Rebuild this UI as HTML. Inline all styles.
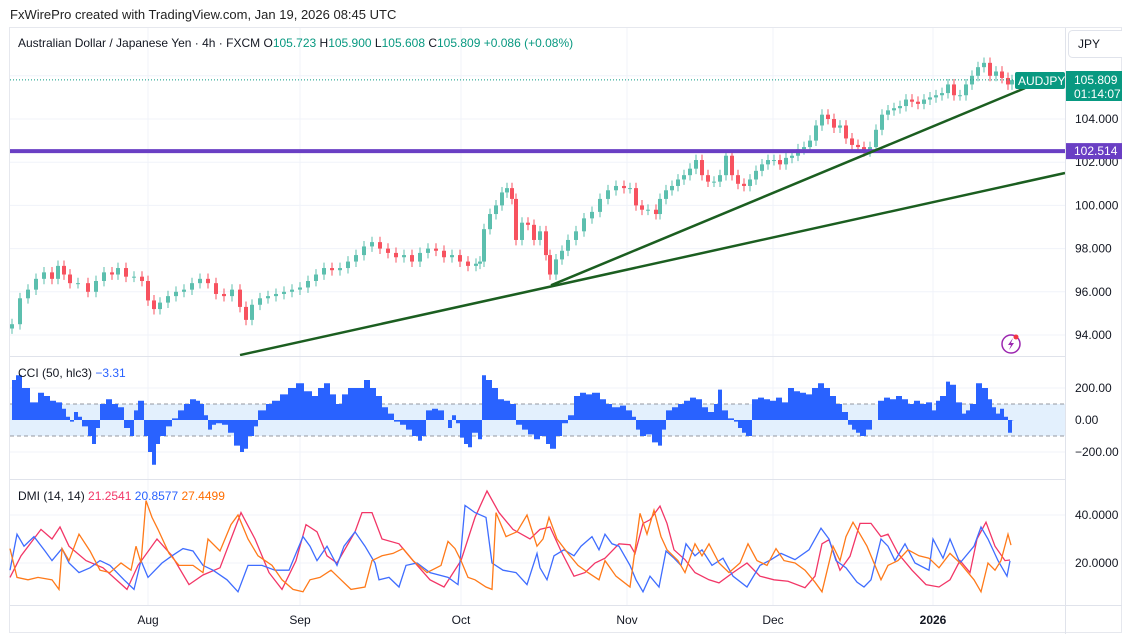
<!DOCTYPE html>
<html><head><meta charset="utf-8"><style>
body{margin:0;background:#fff;font-family:"Liberation Sans",sans-serif;}
#wrap{position:relative;width:1122px;height:634px;overflow:hidden;background:#fff}
svg text{font-family:"Liberation Sans",sans-serif}
</style></head><body>
<div id="wrap">
<svg id="chart" width="1122" height="634">
  <text x="10" y="19" font-size="13" fill="#222">FxWirePro created with TradingView.com, Jan 19, 2026 08:45 UTC</text>
  <rect x="9.5" y="27.5" width="1112" height="605" fill="none" stroke="#e6e8ee"/>
  <g id="grid"></g>
  <g id="cciband"></g>
  <g id="marks"></g>
  <line x1="10" x2="1065" y1="356.5" y2="356.5" stroke="#e0e3eb"/>
  <line x1="10" x2="1065" y1="479.5" y2="479.5" stroke="#e0e3eb"/>
  <line x1="10" x2="1122" y1="605.5" y2="605.5" stroke="#e0e3eb"/>
  <line x1="1065.5" x2="1065.5" y1="28" y2="634" stroke="#e0e3eb"/>
  <g id="axes"></g>
  <text x="18" y="47" font-size="12" fill="#131722">Australian Dollar / Japanese Yen · 4h · FXCM <tspan fill="#131722">O</tspan><tspan fill="#089981">105.723</tspan><tspan fill="#131722"> H</tspan><tspan fill="#089981">105.900</tspan><tspan fill="#131722"> L</tspan><tspan fill="#089981">105.608</tspan><tspan fill="#131722"> C</tspan><tspan fill="#089981">105.809</tspan><tspan fill="#089981"> +0.086 (+0.08%)</tspan></text>
  <text x="18" y="377" font-size="12" fill="#131722">CCI (50, hlc3) <tspan fill="#2962ff">−3.31</tspan></text>
  <text x="18" y="500" font-size="12" fill="#131722">DMI (14, 14) <tspan fill="#f23667">21.2541</tspan> <tspan fill="#2962ff">20.8577</tspan> <tspan fill="#ff6d00">27.4499</tspan></text>
  <rect x="1068.5" y="30.5" width="60" height="27" rx="4" fill="#fff" stroke="#e0e3eb"/>
  <text x="1078" y="48" font-size="12" fill="#131722">JPY</text>
  <circle cx="1011" cy="344" r="9" fill="#fff" stroke="#9c27b0" stroke-width="1.5"/>
  <path d="M1013 338 L1008 345 L1011 345 L1009 350 L1014 343 L1011 343 Z" fill="#9c27b0"/>
  <circle cx="1016" cy="337" r="2.5" fill="#f23645"/>
</svg>
</div>
<script>
// ---------- data ----------
const priceT = [2,10,18,26,34,42,48,54,60,68,78,86,94,102,108,116,124,132,138,144,150,158,166,174,182,190,198,206,214,222,230,236,242,250,258,266,274,282,290,298,306,314,322,330,338,346,354,362,370,378,386,394,402,410,418,426,434,442,450,458,466,470,474,480,486,492,497,502,506,512,518,524,530,536,540,546,552,558,566,574,582,590,598,606,614,620,626,632,638,646,650,656,662,668,674,680,686,692,698,704,710,716,722,728,734,740,746,752,758,764,770,776,782,788,794,800,806,812,818,824,830,836,842,848,854,860,866,872,878,884,890,896,902,908,914,920,926,932,938,944,950,956,962,968,974,980,986,992,998,1002];
const closes = [94.5,95.7,96.1,96.6,96.9,96.6,97.2,96.8,96.4,96.4,96.0,96.5,96.9,96.8,97.1,96.7,96.7,96.5,95.6,95.2,95.5,95.8,96.0,96.1,96.4,96.6,96.4,95.9,95.8,96.1,95.3,94.7,95.4,95.7,95.8,95.9,96.0,96.1,96.2,96.5,96.8,97.1,97.0,97.1,97.4,97.7,98.1,98.3,98.0,97.8,97.6,97.7,97.4,97.8,98.0,97.9,97.6,97.7,97.4,97.2,97.3,97.4,98.9,99.6,100.0,100.6,100.8,100.3,98.4,99.2,99.1,98.4,98.8,97.7,96.8,97.5,97.9,98.4,98.8,99.4,99.7,100.3,100.7,100.9,100.8,100.8,100.0,99.8,99.8,99.6,100.3,100.7,100.9,101.2,101.4,101.7,102.1,101.4,101.1,101.1,101.4,102.3,101.4,101.0,100.9,101.2,101.6,101.9,102.1,102.1,101.9,102.2,102.3,102.6,102.7,103.0,103.7,104.2,104.0,103.6,103.7,103.1,102.8,102.7,102.5,102.7,103.5,104.2,104.4,104.5,104.6,104.9,104.8,104.7,104.9,105.0,105.1,105.2,105.6,105.1,105.1,105.6,106.0,106.4,106.6,106.0,106.2,105.9,105.6,105.8];
const priceTicks = [94,96,98,100,102,104];
const lastPrice = 105.809;
const hLevel = 102.514;
const trend1 = [[230,93.07],[1055,101.5]];
const trend2 = [[541,96.3],[1015,105.43]];

const cciT = [2,6,12,20,28,34,40,46,52,56,60,64,68,72,78,82,86,90,96,102,108,114,120,124,128,134,138,142,146,150,156,162,168,174,180,186,190,194,198,202,206,212,218,224,230,234,238,244,248,256,262,270,278,286,294,302,308,314,320,326,332,338,346,354,360,366,372,378,384,390,396,402,408,412,416,422,428,434,438,442,446,450,454,458,462,468,472,476,482,488,494,500,506,512,518,524,530,536,540,546,552,558,564,570,576,582,590,596,602,610,616,622,626,630,636,642,648,652,656,662,668,674,680,686,692,698,704,708,712,718,724,728,732,736,742,748,754,760,766,772,778,784,790,796,802,808,814,820,826,832,838,842,846,850,856,862,868,874,880,886,892,898,904,910,916,922,926,930,936,940,946,952,956,960,966,972,978,982,986,990,994,998,1002];
const cciV = [250,280,200,110,170,150,120,110,70,20,-10,50,20,-40,-100,-150,-50,100,130,100,80,-50,-100,60,120,-100,-200,-280,-150,-100,-40,10,60,100,130,120,100,30,-60,-30,-20,-30,-80,-160,-200,-180,-100,-40,60,100,120,160,200,230,180,150,200,230,160,100,160,200,200,250,200,150,80,40,-10,-30,-60,-100,-130,-100,60,70,60,0,-50,30,-20,-110,-150,-170,-80,-120,280,250,200,130,120,100,-30,-60,-90,-120,-100,-150,-180,-100,-20,30,150,170,160,170,130,100,80,90,60,20,-60,-100,-90,-140,-160,-60,60,80,100,120,140,130,80,50,100,190,60,10,-10,-50,-80,-100,130,140,130,120,140,110,200,180,170,160,200,230,200,150,100,50,-30,-60,-80,-100,-60,0,120,140,130,150,130,100,120,100,110,60,120,150,240,220,110,40,60,100,230,200,130,80,40,70,20,-80,-3];
const cciTicks = [200,0,-200];

const redT = [0,11,31,42,50,59,76,93,117,128,147,162,179,193,210,231,245,259,272,286,296,307,317,327,345,352,362,372,389,403,420,434,451,465,477,489,503,520,530,540,551,564,575,585,595,609,620,625,633,640,650,657,664,675,685,699,709,723,737,750,764,778,795,805,812,819,830,840,850,861,871,878,888,902,916,929,940,950,960,967,976,985,995,1000];
const redV = [14,23,34,30,35,27,21,18,9,19,30,23,11,15,18,41,30,16,9,21,36,33,23,20,33,41,41,30,28,21,13,10,21,39,50,41,34,30,34,35,25,14.5,16,20,22,28,27.6,24,36.5,38,43.7,36.5,25.5,21.4,16,13,11.7,16,20,14.5,13,12.4,9.7,14.5,28,29.7,17,22.8,36.5,36.5,31,32,24,17,11,10,13,21,16,30,37,27,21,21.25];
const blueT = [0,7,14,24,35,42,52,59,69,80,90,100,114,124,131,138,152,162,173,183,193,203,217,228,238,252,265,279,286,293,300,307,317,327,334,345,355,365,369,379,389,396,407,420,438,448,455,465,476,482,493,506,517,527,530,537,544,554,564,571,582,589,595,602,609,620,626,633,640,649,656,664,671,676,685,692,702,713,723,737,750,761,771,785,799,811,819,826,836,847,854,861,871,878,885,895,905,919,923,933,940,950,964,971,978,988,997,1000];
const blueV = [17,32,27,31,25,21,26,20,16,18,21,19,13,9,21,14,20,23,26,25,19,17,13,8,19,19,17,17,24,31,27,21,27,19,27,33,27,20,13,14,10,19,20,16,14,11,44,41,39,20,17,16,11,24,18,13,23,25.5,23,27,31,25.5,32,28,27,19,13,8,14.5,10,25,22,19,28,23,25.5,19,22,14.5,10,19,21.4,24,21.4,25.5,34.5,30,21,18,12,10,13,30,27,21,28,20,17,30,22,30,20,27,35,30,21,14.5,20.86];
const orangeT = [0,7,18,28,42,49,52,59,69,80,90,100,111,121,126,131,136,142,148,159,169,183,193,198,210,221,228,238,248,262,272,283,293,300,310,321,331,341,355,362,372,383,393,403,417,431,438,445,451,458,465,476,482,486,496,507,517,527,533,539,547,558,568,578,589,595,606,620,630,637,644,651,657,668,675,685,692,699,709,719,730,738,747,757,766,774,785,795,805,812,823,830,836,843,850,857,864,871,878,888,898,909,919,929,940,950,964,971,978,985,991,998,1001];
const orangeV = [26,14,13,14,13,9,26,21,32,25,17,16,20,17,27,20,46,39,34,24,19,19,16,30,25,36,40,30,23,19,13,9,8,13,14,17,13,9,10,21,23,24,26,21,16,19,29,26,21,14,13,10,9,41,31,33,40,27,30,39,30,24,19,16,13,21,14.5,10,40.7,32,42,31,25.5,21,16,28,23,28,20,16,20,28,21,19,26,21,20,17,12,8,27,21,31,37,32,27,20,13,19,21,25.5,23,22,18,24,20,13,8,20,17,21,32,27.45];
const dmiTicks = [40,20];

const monthLabels = ['Aug','Sep','Oct','Nov','Dec','2026'];
const monthT = [138,290,451,617,763,923];

// ---------- scales ----------
const xS = t => 10 + t;
const yP = p => 119 + (104 - p) * 21.6;
const yC = v => 420 - v * 0.16;
const yD = v => 563 - (v - 20) * 2.4;
const NS = 'http://www.w3.org/2000/svg';
function mk(tag, attrs, parent){const e=document.createElementNS(NS,tag);for(const k in attrs)e.setAttribute(k,attrs[k]);parent.appendChild(e);return e;}
const grid=document.getElementById('grid'), marks=document.getElementById('marks'), axes=document.getElementById('axes'), band=document.getElementById('cciband');

monthT.forEach((t,i)=>{
  const l=mk('line',{x1:xS(t),x2:xS(t),y1:28,y2:605,stroke:'#f0f3fa'},grid);
  
  
  const tx=mk('text',{x:xS(t),y:624,'font-size':12,'text-anchor':'middle',fill:'#131722','font-weight':monthLabels[i]==='2026'?'bold':'normal'},axes);
  tx.textContent=monthLabels[i];
  
  
});
[106].concat(priceTicks).forEach(p=>{
  const l=mk('line',{x1:10,x2:1065,y1:yP(p),y2:yP(p),stroke:'#f0f3fa'},grid);
  
  
});
priceTicks.forEach(p=>{
  const tx=mk('text',{x:1075,y:yP(p)+4,'font-size':12,fill:'#131722'},axes);
  tx.textContent=p.toFixed(3);
  
  
});
cciTicks.forEach(v=>{
  const tx=mk('text',{x:1075,y:yC(v)+4,'font-size':12,fill:'#131722'},axes);
  tx.textContent=v.toFixed(2).replace('-','−');
  
  
});
[200,-200].forEach(v=>{
  const l=mk('line',{x1:10,x2:1065,y1:yC(v),y2:yC(v),stroke:'#f0f3fa'},grid);
  
  
});
dmiTicks.forEach(v=>{
  const l=mk('line',{x1:10,x2:1065,y1:yD(v),y2:yD(v),stroke:'#f0f3fa'},grid);
  
  
  const tx=mk('text',{x:1075,y:yD(v)+4,'font-size':12,fill:'#131722'},axes);
  tx.textContent=v.toFixed(4);
  
  
});

const bandRect=mk('rect',{x:10,y:yC(100),width:1055,height:yC(-100)-yC(100),fill:'#e3f0fd'},band);


[100,-100].forEach(v=>{
  const l=mk('line',{x1:10,x2:1065,y1:yC(v),y2:yC(v),stroke:'#9598a1','stroke-dasharray':'4 3'},band);
  
  
});

const n=Math.min(priceT.length,closes.length);
for(let i=0;i<n;i++){
  const o=i?closes[i-1]:closes[i]-0.2, c=closes[i];
  const hi=Math.max(o,c)+0.25, lo=Math.min(o,c)-0.25;
  const col=c>=o?'#5cbfae':'#f7525f';
  const x=xS(priceT[i]);
  const w=mk('line',{x1:x,x2:x,y1:yP(hi),y2:yP(lo),stroke:col,'stroke-width':1},marks);
  
  
  const b=mk('rect',{x:x-2,y:yP(Math.max(o,c)),width:4,height:Math.max(1,Math.abs(yP(o)-yP(c))),fill:col},marks);
  
  
}
const lp=mk('line',{x1:10,x2:1065,y1:yP(lastPrice),y2:yP(lastPrice),stroke:'#089981','stroke-dasharray':'1 2'},marks);


const hl=mk('line',{x1:10,x2:1065,y1:yP(hLevel),y2:yP(hLevel),stroke:'#6a3fc4','stroke-width':4},marks);


[trend1,trend2].forEach(tl=>{
  const l=mk('line',{x1:xS(tl[0][0]),y1:yP(tl[0][1]),x2:xS(tl[1][0]),y2:yP(tl[1][1]),stroke:'#1b5e20','stroke-width':2.5},marks);
  
  
});

let d='M'+xS(cciT[0])+' '+yC(0);
for(let i=0;i<cciT.length;i++){
  const x0=xS(cciT[i]), x1=i<cciT.length-1?xS(cciT[i+1]):x0+2;
  d+=' L'+x0+' '+yC(cciV[i])+' L'+x1+' '+yC(cciV[i]);
}
d+=' L'+xS(cciT[cciT.length-1])+' '+yC(0)+' Z';
const cci=mk('path',{d:d,fill:'#2962ff'},marks);



[[redT,redV,'#f23667','dmi-plus-line'],[blueT,blueV,'#3f6dff','dmi-minus-line'],[orangeT,orangeV,'#ff7a1a','adx-line']].forEach(s=>{
  const pts=s[0].map((t,i)=>xS(t)+','+yD(s[1][i])).join(' ');
  const pl=mk('polyline',{points:pts,fill:'none',stroke:s[2],'stroke-width':1.3},marks);
  
  
});

const lbl=mk('rect',{x:1015,y:72,width:50,height:17,rx:2,fill:'#089981'},axes);


const lt=mk('text',{x:1018,y:85,'font-size':12,fill:'#fff'},axes);lt.textContent='AUDJPY';


const pb=mk('rect',{x:1066,y:71,width:56,height:30,fill:'#089981'},axes);


const pt1=mk('text',{x:1074,y:84,'font-size':12,fill:'#fff'},axes);pt1.textContent='105.809';


const pt2=mk('text',{x:1074,y:98,'font-size':12,fill:'#fff'},axes);pt2.textContent='01:14:07';


const hb=mk('rect',{x:1066,y:yP(hLevel)-8,width:56,height:16,fill:'#6a3fc4'},axes);


const ht=mk('text',{x:1074,y:yP(hLevel)+4,'font-size':12,fill:'#fff'},axes);ht.textContent='102.514';


</script>
</body></html>
